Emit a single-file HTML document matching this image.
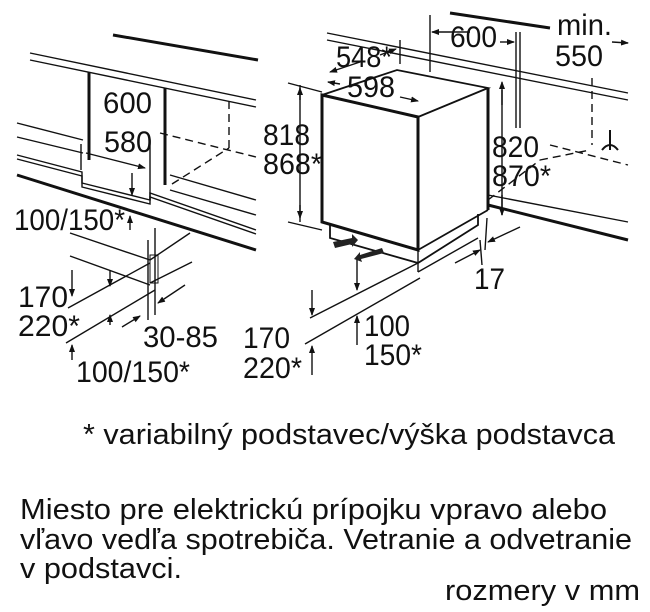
<!DOCTYPE html>
<html><head><meta charset="utf-8"><style>
html,body{margin:0;padding:0;background:#fff;}
svg{display:block;}
text{font-family:"Liberation Sans",sans-serif;fill:#111;}
</style></head><body>
<svg width="650" height="612" viewBox="0 0 650 612" xmlns="http://www.w3.org/2000/svg">
<defs><marker id="a" markerWidth="8" markerHeight="8" refX="7" refY="4" orient="auto" markerUnits="userSpaceOnUse"><path d="M0,1 L8,4 L0,7 z" fill="#111"/></marker></defs>
<g stroke="#111" fill="none" stroke-width="1.4">
<line x1="113" y1="35" x2="258" y2="60" stroke-width="3"/>
<line x1="30" y1="53" x2="256" y2="100"/>
<line x1="30" y1="60" x2="256" y2="107"/>
<line x1="89" y1="72" x2="89" y2="160" stroke-width="3"/>
<line x1="165" y1="88" x2="165" y2="185" stroke-width="3"/>
<line x1="229" y1="101" x2="229" y2="148" stroke-dasharray="8,5"/>
<line x1="160" y1="133" x2="256" y2="157" stroke-dasharray="8,5"/>
<line x1="172" y1="184" x2="229" y2="148" stroke-dasharray="8,5"/>
<line x1="17" y1="123" x2="83" y2="140"/>
<line x1="17" y1="137" x2="83" y2="153"/>
<polyline points="17,155 82,172 82,183 150,200 150,193 256,230"/>
<polyline points="17,159 82,176 82,187 150,204 150,197 256,234"/>
<line x1="17" y1="175" x2="256" y2="250" stroke-width="3"/>
<line x1="170" y1="175" x2="256" y2="200"/>
<line x1="170" y1="190" x2="256" y2="215"/>
<line x1="81" y1="144" x2="81" y2="170"/>
<line x1="150" y1="140" x2="150" y2="200"/>
<line x1="86" y1="153" x2="145" y2="168" marker-end="url(#a)"/>
<line x1="132" y1="173" x2="132" y2="195" marker-end="url(#a)"/>
<line x1="130" y1="230" x2="130" y2="216" marker-end="url(#a)"/>
<line x1="70" y1="233" x2="150" y2="260"/>
<line x1="70" y1="256" x2="150" y2="285"/>
<line x1="148" y1="240" x2="148" y2="320"/>
<line x1="155" y1="228" x2="155" y2="315"/>
<rect x="150" y="255" width="8" height="28" stroke-width="1"/>
<line x1="150" y1="260" x2="190" y2="233"/>
<line x1="150" y1="283" x2="192" y2="262"/>
<line x1="68" y1="308" x2="150" y2="263"/>
<line x1="66" y1="343" x2="155" y2="290"/>
<line x1="72" y1="270" x2="72" y2="296" marker-end="url(#a)"/>
<line x1="110" y1="270" x2="110" y2="286" marker-end="url(#a)"/>
<line x1="110" y1="325" x2="110" y2="315" marker-end="url(#a)"/>
<line x1="72" y1="360" x2="72" y2="345" marker-end="url(#a)"/>
<line x1="185" y1="285" x2="158" y2="303" marker-end="url(#a)"/>
<line x1="122" y1="327" x2="140" y2="316" marker-end="url(#a)"/>
<line x1="450" y1="13" x2="550" y2="28" stroke-width="3"/>
<line x1="327" y1="33" x2="628" y2="93"/>
<line x1="327" y1="40" x2="628" y2="100"/>
<polygon points="322,95 418,117 418,250 322,222" stroke-width="3"/>
<polyline points="322,95 397,70 488,88 418,117" stroke-width="1.8"/>
<line x1="488" y1="88" x2="488" y2="210" stroke-width="3"/>
<line x1="418" y1="250" x2="488" y2="210" stroke-width="1.8"/>
<polyline points="330,225 330,238 418,263 478,225 478,214" stroke-width="1.8"/>
<line x1="418" y1="250" x2="418" y2="272"/>
<polyline points="418,272 478,238"/>
<line x1="488" y1="195" x2="628" y2="222"/>
<line x1="488" y1="205" x2="628" y2="240" stroke-width="3"/>
<line x1="488" y1="200" x2="540" y2="160" stroke-dasharray="8,5"/>
<line x1="540" y1="160" x2="590" y2="150" stroke-dasharray="8,5"/>
<line x1="550" y1="145" x2="628" y2="165" stroke-dasharray="8,5"/>
<line x1="592" y1="78" x2="592" y2="145" stroke-dasharray="8,5"/>
<line x1="430" y1="15" x2="430" y2="72"/>
<line x1="516" y1="32" x2="516" y2="128"/>
<line x1="520" y1="32" x2="520" y2="128"/>
<line x1="400" y1="40" x2="400" y2="64"/>
<line x1="470" y1="32" x2="432" y2="32" marker-end="url(#a)"/>
<line x1="500" y1="42" x2="514" y2="42" marker-end="url(#a)"/>
<line x1="360" y1="62" x2="330" y2="72" marker-end="url(#a)"/>
<line x1="340" y1="84" x2="328" y2="82" marker-end="url(#a)"/>
<line x1="400" y1="97" x2="418" y2="101" marker-end="url(#a)"/>
<line x1="380" y1="55" x2="396" y2="49" marker-end="url(#a)"/>
<line x1="612" y1="42" x2="628" y2="43" marker-end="url(#a)"/>
<line x1="300" y1="85" x2="300" y2="222"/>
<line x1="288" y1="83" x2="322" y2="92"/>
<line x1="288" y1="222" x2="322" y2="230"/>
<line x1="300" y1="100" x2="300" y2="88" marker-end="url(#a)"/>
<line x1="300" y1="205" x2="300" y2="218" marker-end="url(#a)"/>
<line x1="502" y1="90" x2="502" y2="215"/>
<line x1="502" y1="105" x2="502" y2="82" marker-end="url(#a)"/>
<line x1="502" y1="195" x2="502" y2="215" marker-end="url(#a)"/>
<line x1="485" y1="250" x2="487" y2="218"/>
<line x1="480" y1="240" x2="482" y2="265"/>
<line x1="520" y1="227" x2="488" y2="242" marker-end="url(#a)"/>
<line x1="455" y1="263" x2="480" y2="250" marker-end="url(#a)"/>
<line x1="310" y1="318" x2="418" y2="263"/>
<line x1="305" y1="344" x2="420" y2="278"/>
<line x1="312" y1="290" x2="312" y2="315" marker-end="url(#a)"/>
<line x1="357" y1="258" x2="357" y2="290" marker-end="url(#a)"/>
<line x1="357" y1="345" x2="357" y2="316" marker-end="url(#a)"/>
<line x1="312" y1="375" x2="312" y2="346" marker-end="url(#a)"/>
<line x1="610" y1="130" x2="610" y2="150" stroke-width="2"/>
<path d="M602,150 Q610,140 618,150" stroke-width="2"/>
</g>
<path d="M333,242 L352,238 L352,234 L358,240 L352,247 L352,244 L335,248 z" fill="#222"/>
<path d="M382,248 L360,255 L360,252 L354,259 L362,262 L361,259 L384,253 z" fill="#222"/>
<g font-size="30" lengthAdjust="spacingAndGlyphs">
<text x="103" y="113" textLength="49" lengthAdjust="spacingAndGlyphs">600</text>
<text x="104" y="152" textLength="48" lengthAdjust="spacingAndGlyphs">580</text>
<text x="14" y="230" textLength="111" lengthAdjust="spacingAndGlyphs">100/150*</text>
<text x="18" y="307" textLength="50" lengthAdjust="spacingAndGlyphs">170</text>
<text x="18" y="336" textLength="62" lengthAdjust="spacingAndGlyphs">220*</text>
<text x="143" y="347" textLength="75" lengthAdjust="spacingAndGlyphs">30-85</text>
<text x="76" y="382" textLength="114" lengthAdjust="spacingAndGlyphs">100/150*</text>
<text x="336" y="67" textLength="56" lengthAdjust="spacingAndGlyphs">548*</text>
<text x="347" y="97" textLength="48" lengthAdjust="spacingAndGlyphs">598</text>
<text x="450" y="47" textLength="47" lengthAdjust="spacingAndGlyphs">600</text>
<text x="557" y="35" textLength="55" lengthAdjust="spacingAndGlyphs">min.</text>
<text x="555" y="66" textLength="48" lengthAdjust="spacingAndGlyphs">550</text>
<text x="263" y="145" textLength="47" lengthAdjust="spacingAndGlyphs">818</text>
<text x="263" y="174" textLength="59" lengthAdjust="spacingAndGlyphs">868*</text>
<text x="492" y="157" textLength="47" lengthAdjust="spacingAndGlyphs">820</text>
<text x="492" y="186" textLength="59" lengthAdjust="spacingAndGlyphs">870*</text>
<text x="474" y="289" textLength="31" lengthAdjust="spacingAndGlyphs">17</text>
<text x="243" y="348" textLength="47" lengthAdjust="spacingAndGlyphs">170</text>
<text x="243" y="378" textLength="59" lengthAdjust="spacingAndGlyphs">220*</text>
<text x="364" y="336" textLength="46" lengthAdjust="spacingAndGlyphs">100</text>
<text x="364" y="365" textLength="58" lengthAdjust="spacingAndGlyphs">150*</text>
</g>
<g font-size="29">
<text x="83" y="444" textLength="532" lengthAdjust="spacingAndGlyphs">* variabilný podstavec/výška podstavca</text>
<text x="20" y="519" textLength="587" lengthAdjust="spacingAndGlyphs">Miesto pre elektrickú prípojku vpravo alebo</text>
<text x="20" y="549" textLength="612" lengthAdjust="spacingAndGlyphs">vľavo vedľa spotrebiča. Vetranie a odvetranie</text>
<text x="20" y="578" textLength="162" lengthAdjust="spacingAndGlyphs">v podstavci.</text>
<text x="445" y="600" textLength="195" lengthAdjust="spacingAndGlyphs">rozmery v mm</text>
</g>
</svg>
</body></html>
